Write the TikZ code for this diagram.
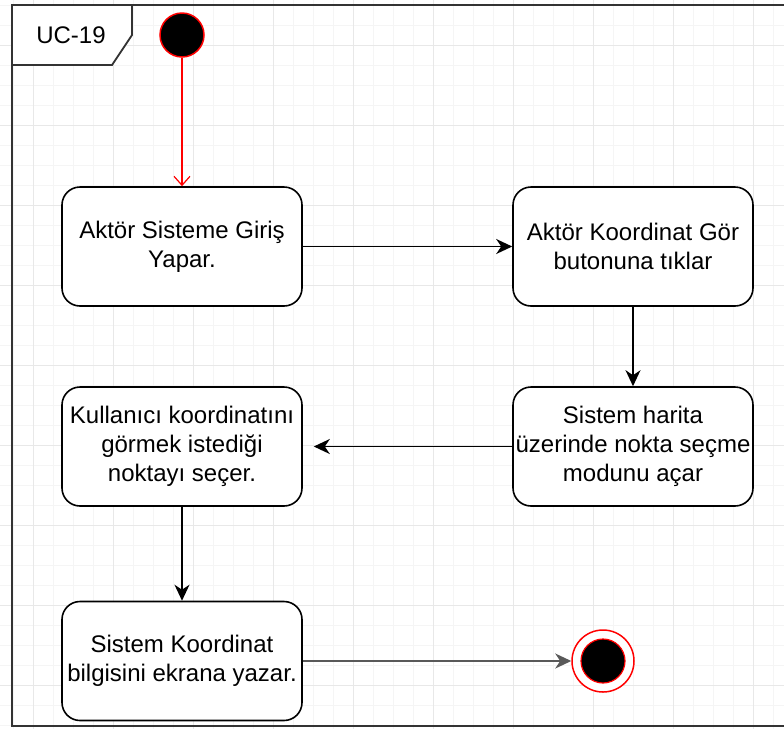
\documentclass[tikz,border=0pt]{standalone}
\usepackage{fontspec}
\setmainfont{Liberation Sans}
\usetikzlibrary{arrows.meta}
\begin{document}
\begin{tikzpicture}[x=1pt,y=-1pt,
  minorgrid/.style={draw=black!4, line width=0.9pt},
  majorgrid/.style={draw=black!9, line width=1pt},
  action/.style={draw=black, line width=1.6pt, rounded corners=18pt, fill=white,
    minimum width=240pt, minimum height=119pt, align=center, inner sep=0pt,
    font=\fontsize{24}{28.8}\selectfont},
  flow/.style={draw=black, line width=1.6pt, -{Stealth[length=16pt,width=15pt,inset=5pt]}},
  initflow/.style={draw=red, line width=1.2pt, -{Straight Barb[length=9pt,width=16pt]}},
  framebox/.style={draw=black!80, line width=1.8pt},
]
\useasboundingbox (0,0) rectangle (784,729);
\fill[white] (0,0) rectangle (784,729);

% background grid
\foreach \x in {13,33,...,793} \draw[minorgrid] (\x,0) -- (\x,729);
\foreach \y in {5,25,...,725} \draw[minorgrid] (0,\y) -- (784,\y);
\foreach \x in {33,113,...,753} \draw[majorgrid] (\x,0) -- (\x,729);
\foreach \y in {45,125,...,685} \draw[majorgrid] (0,\y) -- (784,\y);

% activity frame with its name tab
\draw[framebox] (800,5) -- (12,5) -- (12,726) -- (800,726);
\draw[framebox, fill=white] (12,5) -- (132,5) -- (132,35) -- (112,65) -- (12,65) -- cycle;
\node[font=\fontsize{24}{28.8}\selectfont] (title) at (71,35) {UC-19};

% initial node
\node[circle, fill=black, draw=red, line width=1.5pt, minimum size=44pt, inner sep=0pt] (start) at (182,35) {};

% actions
\node[action] (A) at (182,246.5) {Aktör Sisteme Giriş\\Yapar.};
\node[action] (B) at (633,246.5) {Aktör Koordinat Gör\\butonuna tıklar};
\node[action] (C) at (633,446.5) {Sistem harita\\üzerinde nokta seçme\\modunu açar};
\node[action] (D) at (182,446.5) {Kullanıcı koordinatını\\görmek istediği\\noktayı seçer.};
\node[action] (E) at (182,661) {Sistem Koordinat\\bilgisini ekrana yazar.};

% final node
\node[circle, draw=red, line width=1.5pt, fill=white, minimum size=62pt, inner sep=0pt] (end) at (603,661) {};
\node[circle, fill=black, draw=red, line width=1.2pt, minimum size=44pt, inner sep=0pt] (endcore) at (end.center) {};

% control flows
\draw[initflow] (start) -- (A);
\draw[flow] (A.east) -- (B.west);
\draw[flow] (B.south) -- (C.north);
\draw[flow, shorten >=11pt] (C.west) -- (D.east);
\draw[flow] (D.south) -- (E.north);
\draw[flow, draw=black!65, line width=2.2pt] (E.east) -- (end.west);
\end{tikzpicture}
\end{document}
